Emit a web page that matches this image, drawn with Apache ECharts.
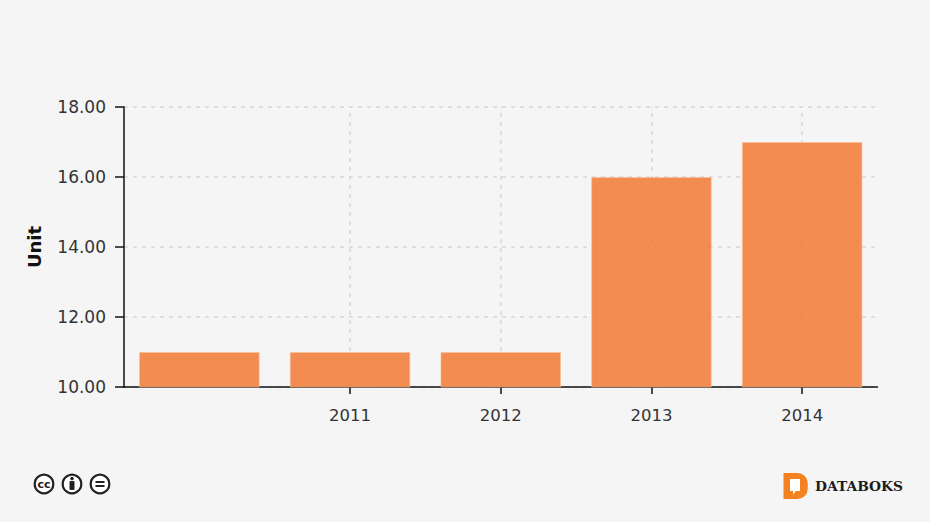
<!DOCTYPE html>
<html><head><meta charset="utf-8">
<script src="https://cdn.jsdelivr.net/npm/echarts@6/dist/echarts.min.js"></script>
<style>html,body{margin:0;padding:0;background:#f5f5f5}#c{width:930px;height:522px}</style>
</head><body><div id="c"></div>
<script>
const categories = ['', '2011', '2012', '2013', '2014'];
const values = [11, 11, 11, 16, 17];
const yMin = 10, yMax = 18, yStep = 2;
const unitLabel = 'Unit';
const brand = 'DATABOKS';
const font = '"DejaVu Sans", sans-serif';
const hasLabel = (i, v) => v !== '';
const gridStyle = {color: '#d6d6d6', width: 1.5, type: [4, 5], opacity: 1};
const chart = echarts.init(document.getElementById('c'), null, {renderer: 'svg'});
const ring = (x) => ({type:'circle', shape:{cx:x, cy:484, r:9.3}, style:{fill:'#fff', stroke:'#222', lineWidth:2.2}});
chart.setOption({
  animation: false,
  backgroundColor: '#f5f5f5',
  grid: {left: 124, right: 52.5, top: 107, bottom: 135},
  xAxis: {
    type: 'category', data: categories,
    axisLine: {lineStyle: {color: '#111', width: 1.5}},
    axisTick: {show: true, alignWithLabel: true, interval: hasLabel, length: 7, lineStyle: {color: '#111', width: 1.5}},
    axisLabel: {color: '#333', fontFamily: font, fontSize: 16.5, margin: 20, interval: 0},
    splitLine: {show: false}
  },
  yAxis: {
    type: 'value', min: yMin, max: yMax, interval: yStep,
    name: unitLabel, nameLocation: 'middle', nameGap: 81, nameRotate: 90,
    nameTextStyle: {color: '#111', fontFamily: font, fontSize: 18, fontWeight: 'bold'},
    axisLine: {show: true, lineStyle: {color: '#111', width: 1.5}},
    axisTick: {show: true, length: 9, lineStyle: {color: '#111', width: 1.5}},
    axisLabel: {color: '#333', fontFamily: font, fontSize: 17, margin: 18, formatter: v => v.toFixed(2)},
    splitLine: {show: true, lineStyle: gridStyle}
  },
  series: [{
    type: 'line', z: 1, data: [], silent: true,
    markLine: {
      z: 1, silent: true, symbol: 'none', label: {show: false}, lineStyle: gridStyle,
      data: categories.filter(c => c !== '').map(c => ({xAxis: c}))
    }
  }, {
    type: 'bar', z: 2, data: values, barWidth: '80%',
    itemStyle: {color: 'rgba(243,125,58,0.88)', borderColor: 'rgba(250,190,150,0.6)', borderWidth: 1}
  }],
  graphic: [
    ring(44), ring(72), ring(100),
    {type:'text', x:44, y:484, style:{text:'cc', fill:'#222', font:'bold 11px "DejaVu Sans"', align:'center', verticalAlign:'middle'}},
    {type:'circle', shape:{cx:72, cy:478.5, r:1.8}, style:{fill:'#222'}},
    {type:'rect', shape:{x:69.5, y:481, width:5, height:9, r:1}, style:{fill:'#222'}},
    {type:'rect', shape:{x:95.5, y:481, width:9, height:2}, style:{fill:'#222'}},
    {type:'rect', shape:{x:95.5, y:485, width:9, height:2}, style:{fill:'#222'}},
    {type:'rect', shape:{x:783.5, y:473, width:24.2, height:26, r:[0,10,10,0]}, style:{fill:'#f58220'}},
    {type:'polygon', shape:{points:[[790,479],[800,479],[800,491],[796,491],[793,494.5],[793,491],[790,491]]}, style:{fill:'#fff'}},
    {type:'text', x:815, y:485.5, style:{text:brand, fill:'#1c1c1c', font:'bold 13.8px "DejaVu Serif"', verticalAlign:'middle'}}
  ]
});
</script></body></html>
